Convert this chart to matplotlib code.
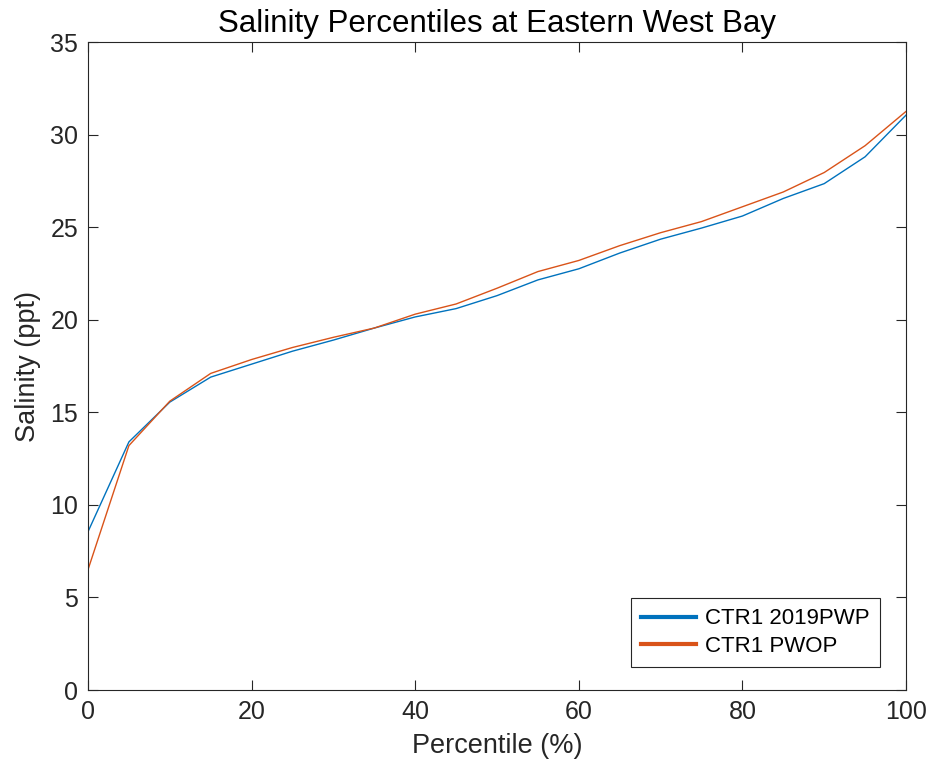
import numpy as np
import matplotlib.pyplot as plt
from matplotlib.lines import Line2D

plt.rcParams['font.family'] = ['Liberation Sans', 'DejaVu Sans']

# Percentile axis and salinity values (ppt)
percentile = [0, 5, 10, 15, 20, 25, 30, 35, 40, 45, 50,
              55, 60, 65, 70, 75, 80, 85, 90, 95, 100]
sal_2019pwp = [8.55, 13.4, 15.55, 16.9, 17.6, 18.3, 18.9, 19.55, 20.15, 20.6, 21.3,
               22.15, 22.75, 23.6, 24.35, 24.95, 25.6, 26.55, 27.35, 28.8, 31.05]
sal_pwop = [6.5, 13.2, 15.6, 17.1, 17.85, 18.5, 19.05, 19.55, 20.3, 20.85, 21.7,
            22.6, 23.2, 24.0, 24.7, 25.3, 26.1, 26.9, 27.95, 29.4, 31.25]

blue = '#0072BD'
orange = '#D95319'
dark = '#262626'

fig = plt.figure(figsize=(9.3, 7.7), dpi=100)
ax = fig.add_axes([88 / 930, 80 / 770, 818 / 930, 648 / 770])

ax.plot(percentile, sal_2019pwp, color=blue, lw=1.0)
ax.plot(percentile, sal_pwop, color=orange, lw=1.0)

ax.set_xlim(0, 100)
ax.set_ylim(0, 35)
ax.set_xticks(np.arange(0, 101, 20))
ax.set_yticks(np.arange(0, 36, 5))
ax.tick_params(direction='in', top=True, right=True, length=7, width=0.8,
               colors=dark, labelsize=18, pad=7)
for s in ax.spines.values():
    s.set_color(dark)
    s.set_linewidth(0.8)

ax.set_xlabel('Percentile (%)', fontsize=19.5, color=dark, labelpad=7)
ax.set_ylabel('Salinity (ppt)', fontsize=19.5, color=dark, labelpad=7)
ax.set_title('Salinity Percentiles at Eastern West Bay', fontsize=22.5, color='black', pad=7)

handles = [Line2D([], [], color=blue, lw=3), Line2D([], [], color=orange, lw=3)]
leg = ax.legend(handles, ['CTR1 2019PWP', 'CTR1 PWOP'], loc='lower right',
                bbox_to_anchor=(0.968, 0.0355), fontsize=16, fancybox=False,
                framealpha=1, edgecolor=dark, handlelength=2.5, borderpad=0.45,
                labelspacing=0.3, handletextpad=0.4, borderaxespad=0)
leg.get_frame().set_linewidth(0.8)

fig.savefig('out.png', dpi=100)
